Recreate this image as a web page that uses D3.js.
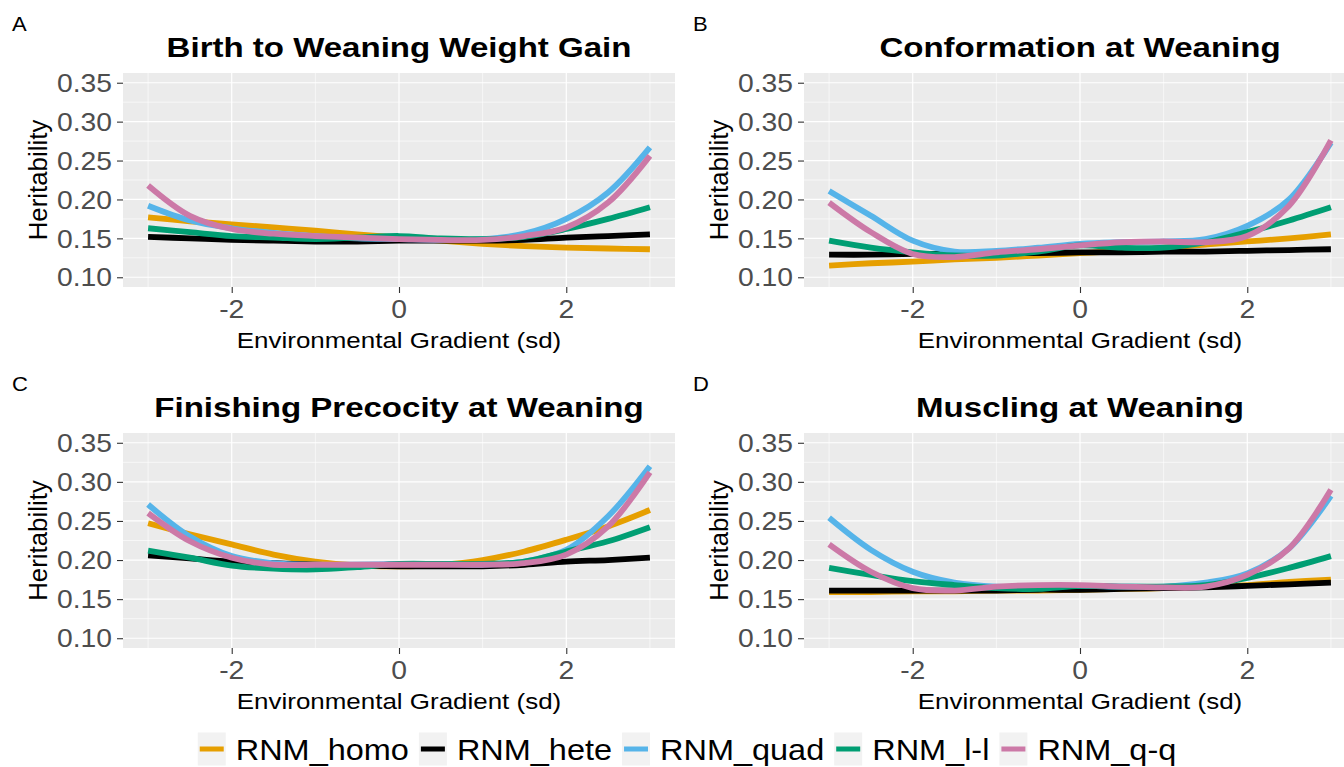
<!DOCTYPE html>
<html>
<head>
<meta charset="utf-8">
<script src="https://cdn.jsdelivr.net/npm/d3@7"></script>
<style>
  html, body { margin: 0; padding: 0; background: #ffffff; }
  svg { display: block; font-family: "Liberation Sans", Arial, sans-serif; }
</style>
</head>
<body>
<svg id="chart" width="1344" height="767"></svg>
<script>
// Environmental gradient (sd) at which heritabilities are evaluated
const gradient = [-3, -2.5, -2, -1.5, -1, -0.5, 0, 0.5, 1, 1.5, 2, 2.5, 3];

const seriesNames  = ["RNM_homo", "RNM_hete", "RNM_quad", "RNM_l-l", "RNM_q-q"];
const seriesColors = ["#E69F00", "#000000", "#56B4E9", "#009E73", "#CC79A7"];

// Heritability per series (same order as seriesNames)
const birthToWeaningGain = [
  [0.177, 0.172, 0.168, 0.164, 0.160, 0.155, 0.151, 0.147, 0.143, 0.140, 0.138, 0.137, 0.136],
  [0.152, 0.150, 0.148, 0.147, 0.146, 0.146, 0.147, 0.147, 0.147, 0.148, 0.151, 0.153, 0.155],
  [0.192, 0.173, 0.163, 0.157, 0.153, 0.150, 0.149, 0.148, 0.149, 0.156, 0.175, 0.209, 0.267],
  [0.163, 0.158, 0.153, 0.151, 0.149, 0.151, 0.153, 0.150, 0.149, 0.152, 0.162, 0.175, 0.190],
  [0.218, 0.179, 0.162, 0.156, 0.153, 0.151, 0.149, 0.148, 0.148, 0.153, 0.164, 0.196, 0.256]
];
const conformationWeaning = [
  [0.115, 0.118, 0.120, 0.123, 0.125, 0.128, 0.131, 0.134, 0.138, 0.142, 0.146, 0.150, 0.155],
  [0.129, 0.129, 0.130, 0.130, 0.131, 0.131, 0.132, 0.132, 0.133, 0.133, 0.134, 0.135, 0.136],
  [0.211, 0.179, 0.147, 0.133, 0.134, 0.138, 0.143, 0.145, 0.146, 0.149, 0.166, 0.200, 0.273],
  [0.147, 0.138, 0.132, 0.128, 0.128, 0.133, 0.141, 0.138, 0.138, 0.145, 0.158, 0.173, 0.190],
  [0.196, 0.158, 0.130, 0.126, 0.132, 0.136, 0.141, 0.145, 0.146, 0.145, 0.153, 0.192, 0.276]
];
const finishingPrecocity = [
  [0.247, 0.233, 0.220, 0.207, 0.198, 0.193, 0.192, 0.194, 0.200, 0.211, 0.226, 0.243, 0.264],
  [0.206, 0.202, 0.198, 0.196, 0.194, 0.193, 0.192, 0.192, 0.192, 0.194, 0.198, 0.200, 0.203],
  [0.271, 0.230, 0.205, 0.196, 0.194, 0.194, 0.195, 0.195, 0.194, 0.198, 0.213, 0.256, 0.320],
  [0.212, 0.203, 0.193, 0.189, 0.188, 0.191, 0.195, 0.195, 0.195, 0.198, 0.211, 0.224, 0.242],
  [0.260, 0.224, 0.203, 0.194, 0.194, 0.194, 0.194, 0.194, 0.194, 0.196, 0.207, 0.243, 0.312]
];
const musclingWeaning = [
  [0.159, 0.159, 0.160, 0.160, 0.161, 0.161, 0.162, 0.163, 0.164, 0.166, 0.168, 0.172, 0.175],
  [0.161, 0.161, 0.161, 0.161, 0.161, 0.162, 0.162, 0.163, 0.164, 0.165, 0.167, 0.169, 0.171],
  [0.254, 0.213, 0.185, 0.171, 0.166, 0.166, 0.167, 0.166, 0.166, 0.171, 0.183, 0.215, 0.282],
  [0.190, 0.181, 0.173, 0.168, 0.164, 0.163, 0.167, 0.166, 0.166, 0.168, 0.177, 0.190, 0.205],
  [0.220, 0.185, 0.164, 0.161, 0.166, 0.168, 0.168, 0.166, 0.165, 0.166, 0.181, 0.215, 0.290]
];

const panelTitles = ["Birth to Weaning Weight Gain", "Conformation at Weaning",
                     "Finishing Precocity at Weaning", "Muscling at Weaning"];
const panelTags = ["A", "B", "C", "D"];
const panelData = [birthToWeaningGain, conformationWeaning, finishingPrecocity, musclingWeaning];

const yTicks = [0.10, 0.15, 0.20, 0.25, 0.30, 0.35];
const yMinor = [0.125, 0.175, 0.225, 0.275, 0.325];
const xTicks = [-2, 0, 2];
const xMinor = [-3, -1, 1, 3];

const yLimits = [0.10, 0.35];
const xLimits = [-3, 3];

// ---- layout ----
const svg = d3.select("#chart");
const stretch = 1.18;          // horizontal text stretch
const panelBoxes = [
  { x0: 123, x1: 675,  y0: 73,  y1: 287 },
  { x0: 804, x1: 1356, y0: 73,  y1: 287 },
  { x0: 123, x1: 675,  y0: 433, y1: 648 },
  { x0: 804, x1: 1356, y0: 433, y1: 648 }
];
const tagX = [12, 693, 12, 693];

function label(parent, x, y, str, opt) {
  const o = Object.assign({ size: 24, weight: "normal", anchor: "start", fill: "#000", sx: stretch, sy: 1, rotate: 0 }, opt);
  return parent.append("text")
    .attr("transform", `translate(${x},${y}) rotate(${o.rotate}) scale(${o.sx},${o.sy})`)
    .attr("text-anchor", o.anchor)
    .attr("font-size", o.size)
    .attr("font-weight", o.weight)
    .attr("fill", o.fill)
    .text(str);
}

function expand(lim) {
  const pad = (lim[1] - lim[0]) * 0.05;
  return [lim[0] - pad, lim[1] + pad];
}

panelData.forEach((series, i) => {
  const b = panelBoxes[i];
  const x = d3.scaleLinear().domain(expand(xLimits)).range([b.x0, b.x1]);
  const y = d3.scaleLinear().domain(expand(yLimits)).range([b.y1, b.y0]);
  const g = svg.append("g");

  // panel background
  g.append("rect")
    .attr("x", b.x0).attr("y", b.y0)
    .attr("width", b.x1 - b.x0).attr("height", b.y1 - b.y0)
    .attr("fill", "#EBEBEB");

  // minor grid
  g.selectAll(".ymin").data(yMinor).enter().append("line")
    .attr("x1", b.x0).attr("x2", b.x1)
    .attr("y1", d => y(d)).attr("y2", d => y(d))
    .attr("stroke", "#fff").attr("stroke-width", 0.6);
  g.selectAll(".xmin").data(xMinor).enter().append("line")
    .attr("y1", b.y0).attr("y2", b.y1)
    .attr("x1", d => x(d)).attr("x2", d => x(d))
    .attr("stroke", "#fff").attr("stroke-width", 0.6);
  // major grid
  g.selectAll(".ymaj").data(yTicks).enter().append("line")
    .attr("x1", b.x0).attr("x2", b.x1)
    .attr("y1", d => y(d)).attr("y2", d => y(d))
    .attr("stroke", "#fff").attr("stroke-width", 1.2);
  g.selectAll(".xmaj").data(xTicks).enter().append("line")
    .attr("y1", b.y0).attr("y2", b.y1)
    .attr("x1", d => x(d)).attr("x2", d => x(d))
    .attr("stroke", "#fff").attr("stroke-width", 1.2);

  // curves
  const line = d3.line()
    .x((d, k) => x(gradient[k]))
    .y(d => y(d))
    .curve(d3.curveCatmullRom.alpha(0.5));
  series.forEach((vals, s) => {
    g.append("path")
      .datum(vals)
      .attr("d", line)
      .attr("fill", "none")
      .attr("stroke", seriesColors[s])
      .attr("stroke-width", 5.8);
  });

  // y axis
  const yAxis = d3.axisLeft(y).tickValues(yTicks).tickFormat(d3.format(".2f")).tickSize(6).tickPadding(0);
  const ya = g.append("g").attr("transform", `translate(${b.x0},0)`).call(yAxis);
  ya.select(".domain").remove();
  ya.selectAll(".tick line").attr("stroke", "#333").attr("stroke-width", 1.1);
  ya.selectAll(".tick text").remove();
  yTicks.forEach(t => label(g, b.x0 - 11, y(t) + 9.2, d3.format(".2f")(t),
    { size: 25.5, anchor: "end", fill: "#4D4D4D", sx: 1.11 }));

  // x axis
  const xAxis = d3.axisBottom(x).tickValues(xTicks).tickSize(6).tickPadding(0);
  const xa = g.append("g").attr("transform", `translate(0,${b.y1})`).call(xAxis);
  xa.select(".domain").remove();
  xa.selectAll(".tick line").attr("stroke", "#333").attr("stroke-width", 1.1);
  xa.selectAll(".tick text").remove();
  xTicks.forEach(t => label(g, x(t), b.y1 + 31, String(t),
    { size: 25.5, anchor: "middle", fill: "#4D4D4D", sx: 1.11 }));

  const cx = (b.x0 + b.x1) / 2;
  const cy = (b.y0 + b.y1) / 2;
  // axis titles
  label(g, cx, b.y1 + 61, "Environmental Gradient (sd)", { size: 22, anchor: "middle" });
  label(g, b.x0 - 76, cy, "Heritability", { size: 23.5, anchor: "middle", rotate: -90, sx: 1.1, sy: 1.12 });

  // panel title and tag
  label(g, cx, b.y0 - 16, panelTitles[i], { size: 28, weight: "bold", anchor: "middle" });
  label(g, tagX[i], b.y0 - 42, panelTags[i], { size: 20, sx: 1.1 });
});

// ---- legend ----
const legend = svg.append("g");
const keyW = 28, keyH = 33, keyGap = 10, itemGap = 10;
const legendY = 749;
const legendSx = 1.12;
const items = seriesNames.map((name, s) => {
  const item = legend.append("g");
  item.append("rect")
    .attr("x", 0).attr("y", legendY - keyH / 2)
    .attr("width", keyW).attr("height", keyH)
    .attr("fill", "#F2F2F2");
  item.append("line")
    .attr("x1", 2).attr("x2", keyW - 2)
    .attr("y1", legendY).attr("y2", legendY)
    .attr("stroke", seriesColors[s]).attr("stroke-width", 5);
  const t = label(item, keyW + keyGap, legendY + 11, name, { size: 29, sx: legendSx });
  const w = t.node().getComputedTextLength() * legendSx;
  return { item, width: keyW + keyGap + w };
});
const total = d3.sum(items, d => d.width) + itemGap * (items.length - 1);
let cursor = 687 - total / 2;
items.forEach(d => {
  d.item.attr("transform", `translate(${cursor},0)`);
  cursor += d.width + itemGap;
});
</script>
</body>
</html>
